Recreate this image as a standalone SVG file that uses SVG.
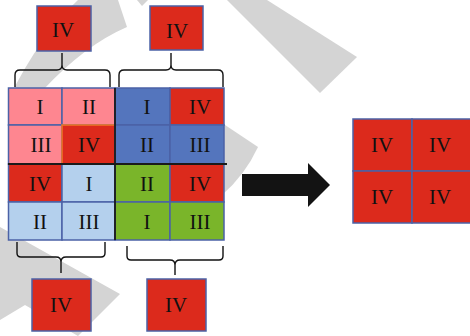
<svg xmlns="http://www.w3.org/2000/svg" width="470" height="336" viewBox="0 0 470 336">
<style>
text{font-family:"Liberation Serif","Times New Roman",serif;font-size:21px;fill:#111;text-anchor:middle}
.c{stroke:#4b62a6;stroke-width:1.5}
.r{fill:#dc2a1c}.p{fill:#fe8690}.b{fill:#5475bd}.lb{fill:#b4d0ed}.g{fill:#7ab52a}
.br{fill:none;stroke:#111;stroke-width:1.4;stroke-linejoin:round}
.wm{fill:#d4d4d4}
</style>
<g id="watermark">
<path class="wm" d="M78,0 H118 L127,27 Q85,45 43,90 L43,130 L8,130 L8,100 Q40,35 78,0 Z"/>
<polygon class="wm" points="137,0 148,0 142,6"/>
<polygon class="wm" points="227,0 267,0 357,57 320,93"/>
<path class="wm" d="M222,123 L258,147 Q245,175 222,195 Z"/>
<polygon class="wm" points="0,227 120,294 78,336 25,305 0,320"/>
</g>
<g id="top-left-box"><rect class="r c" x="37" y="6" width="54" height="45"/><text x="63" y="37">IV</text></g>
<g id="top-right-box"><rect class="r c" x="150" y="6" width="53" height="44"/><text x="177" y="38">IV</text></g>
<g id="grid">
<rect class="p c" x="8.5" y="88" width="53.5" height="37"/><text x="40" y="114">I</text>
<rect class="p c" x="62" y="88" width="53" height="37"/><text x="89" y="114">II</text>
<rect class="b c" x="115" y="88" width="55" height="37"/><text x="147" y="114">I</text>
<rect class="r c" x="170" y="88" width="54" height="37"/><text x="200" y="114">IV</text>
<rect class="p c" x="8.5" y="125" width="53.5" height="39"/><text x="41" y="152">III</text>
<rect class="r" x="62" y="125" width="53" height="39" stroke="#ee7a24" stroke-width="1.5"/><text x="89" y="152">IV</text>
<rect class="b c" x="115" y="125" width="55" height="39"/><text x="147" y="152">II</text>
<rect class="b c" x="170" y="125" width="54" height="39"/><text x="200" y="152">III</text>
<rect class="r c" x="8.5" y="164" width="53.5" height="38"/><text x="40" y="191">IV</text>
<rect class="lb c" x="62" y="164" width="53" height="38"/><text x="89" y="191">I</text>
<rect class="g c" x="115" y="164" width="55" height="38"/><text x="147" y="191">II</text>
<rect class="r c" x="170" y="164" width="54" height="38"/><text x="200" y="191">IV</text>
<rect class="lb c" x="8.5" y="202" width="53.5" height="38"/><text x="40" y="229">II</text>
<rect class="lb c" x="62" y="202" width="53" height="38"/><text x="89" y="229">III</text>
<rect class="g c" x="115" y="202" width="55" height="38"/><text x="147" y="229">I</text>
<rect class="g c" x="170" y="202" width="54" height="38"/><text x="200" y="229">III</text>
<line x1="115" y1="88" x2="115" y2="240" stroke="#1a1a1a" stroke-width="1.8"/>
<line x1="8" y1="164" x2="227" y2="164" stroke="#1a1a1a" stroke-width="1.8"/>
</g>
<g id="bottom-left-box"><rect class="r c" x="32" y="279" width="59" height="52"/><text x="61" y="312">IV</text></g>
<g id="bottom-right-box"><rect class="r c" x="147" y="279" width="59" height="52"/><text x="176" y="312">IV</text></g>
<g id="result-grid">
<rect class="r c" x="353" y="119" width="59" height="52"/><text x="382" y="152">IV</text>
<rect class="r c" x="412" y="119" width="59" height="52"/><text x="440" y="152">IV</text>
<rect class="r c" x="353" y="171" width="59" height="52"/><text x="382" y="204">IV</text>
<rect class="r c" x="412" y="171" width="59" height="52"/><text x="440" y="204">IV</text>
</g>
<g id="connectors">
<path class="br" d="M15,87 V75 Q15,70 20,70 H57 Q62,70 62,65 Q62,70 67,70 H105 Q110,70 110,75 V87 M62,65 V53"/>
<path class="br" d="M119,87 V75 Q119,70 124,70 H166 Q171,70 171,65 Q171,70 176,70 H218 Q223,70 223,75 V87 M171,65 V53"/>
<path class="br" d="M17,242 V253 Q17,257 21,257 H56 Q61,257 61,262 Q61,257 66,257 H101 Q105,257 105,253 V242 M61,262 V273"/>
<path class="br" d="M127,246 V256 Q127,260 131,260 H170 Q175,260 175,265 Q175,260 180,260 H219 Q223,260 223,256 V246 M175,265 V275"/>
<polygon points="242,174 308,174 308,163 330,185 308,207 308,196 242,196" fill="#131313"/>
</g>
</svg>
